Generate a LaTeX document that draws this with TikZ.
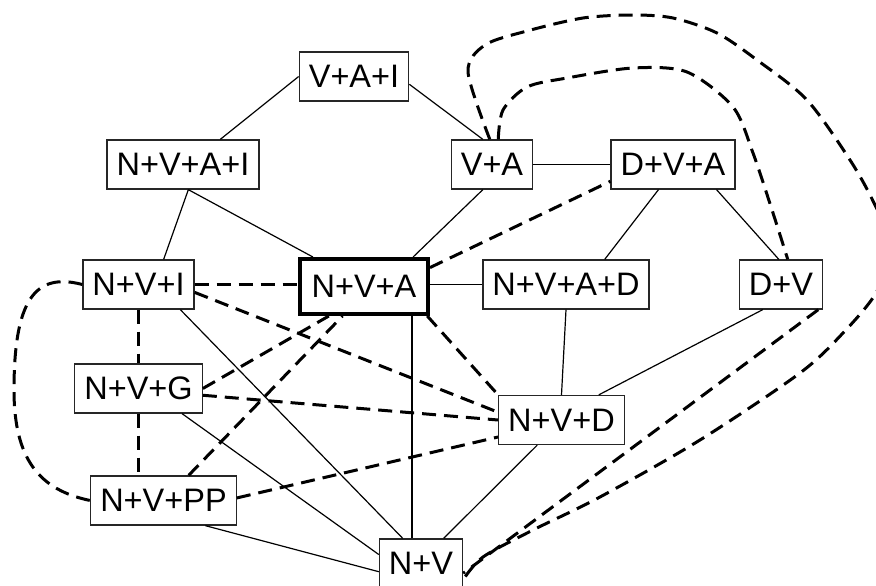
\documentclass[tikz,border=0pt]{standalone}
\usepackage{fontspec}
\setmainfont{Liberation Sans}
\usepackage{tikz}
\usetikzlibrary{calc}

\begin{document}
\begin{tikzpicture}[x=1pt, y=-1pt,
    box/.style={draw=black!85, line width=1.3pt, rectangle, inner xsep=9.5pt, inner ysep=0pt, minimum height=49pt, font=\fontsize{32.5}{39}\selectfont},
    link/.style={line width=1.2pt},
    alt/.style={line width=3pt, dash pattern=on 14pt off 8pt}]
    \useasboundingbox (0,0) rectangle (876,586);

    \node (vai) [box] at (354,76.5) {V+A+I};
    \node (nvai) [box] at (183,164.5) {N+V+A+I};
    \node (va) [box] at (492,164.5) {V+A};
    \node (dva) [box] at (673,164.5) {D+V+A};
    \node (nvi) [box] at (138.5,284.5) {N+V+I};
    \node (nva) [box, draw=black, line width=4pt, inner xsep=11.6pt, minimum height=55pt] at (364,286.5) {N+V+A};
    \node (nvad) [box] at (566,284.5) {N+V+A+D};
    \node (dv) [box] at (781,284.5) {D+V};
    \node (nvg) [box] at (138.5,388.5) {N+V+G};
    \node (nvd) [box] at (561.5,420) {N+V+D};
    \node (nvpp) [box] at (163.5,500.5) {N+V+PP};
    \node (nv) [box] at (421,563.5) {N+V};

    % plain links
    \draw[link] (vai.west) -- (nvai.34);
    \draw[link] (vai.-8) -- (va.110);
    \draw[link] (va) -- (dva);
    \draw[link] (va.250) -- (nva.31);
    \draw[link] (nvai.282) -- (nvi.45);
    \draw[link] (nvai.282) -- (nva.150);
    \draw[link] (dva.240) -- (nvad.33);
    \draw[link] (dva.330) -- (dv.95);
    \draw[link] (nvad.west) -- (nvad.west -| nva.east);
    \draw[link] (nvad.south) -- (nvd.north);
    \draw[link] (dv.234) -- (nvd.34);
    \draw[link] ([xshift=-9pt]nv.north) -- ([xshift=-9pt]nv.north |- nva.south);
    \draw[link] (nvi.329) -- (nv.126);
    \draw[link] (nvg.330) -- (nv.168);
    \draw[link] (nvpp.329) -- (nv.191);
    \draw[link] (nvd.226) -- (nv.48);

    % dashed links
    \draw[alt] (nvi.east) -- (nvi.east -| nva.west);
    \draw[alt] (nvi.south) -- (nvg.north);
    \draw[alt] (nvg.south) -- (nvg.south |- nvpp.north);
    \draw[alt] (nvi.west) .. controls (35,272) and (14,300) .. (14,390) .. controls (14,460) and (40,490) .. (nvpp.west);
    \draw[alt] (nvi.352) -- (nvd.173);
    \draw[alt] (nvg.354) -- (nvd.west);
    \draw[alt] (nvpp.2) -- (nvd.195);
    \draw[alt] (nvg.east) -- (nva.220);
    \draw[alt] (nvpp.45) -- (nva.234);
    \draw[alt] (nva.335) -- (nvd.north west);
    \draw[alt] (nva.16) -- (dva.195);
    \draw[alt] plot[smooth] coordinates {(va.76) (503,110) (527,87) (567,78) (633,68) (687,72) (733,107) (753,153) (773,213) (dv.75)};
    \draw[alt] plot[smooth] coordinates {(va.95) (468,72) (485,45) (527,31) (583,18) (633,15) (673,18) (717,33) (757,60) (807,100) (850,160) (874,203) (892,248) (876,293) (843,333) (800,373) (700,440) (600,497) (533,530) (483,557) (nv.339)};
    \draw[alt] (dv.326) -- (nv.347);
\end{tikzpicture}
\end{document}
